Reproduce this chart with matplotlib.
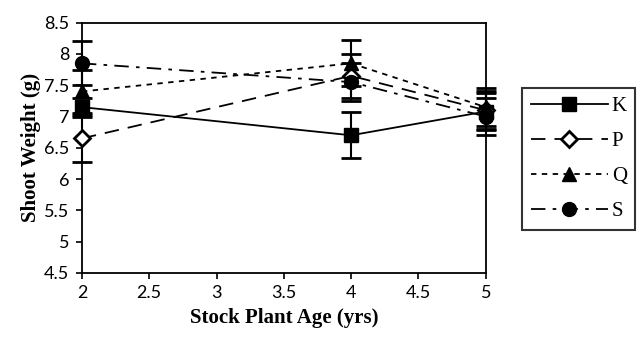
import numpy as np
import matplotlib
matplotlib.use("Agg")
import matplotlib.pyplot as plt

# stock plant age (yrs)
age = [2, 4, 5]

# mean shoot weight (g) and error per clone
K = [7.15, 6.70, 7.08]
K_err = [0.15, 0.37, 0.30]
P = [6.65, 7.65, 7.10]
P_err = [0.37, 0.35, 0.30]
Q = [7.40, 7.85, 7.15]
Q_err = [0.35, 0.37, 0.30]
S = [7.85, 7.55, 7.00]
S_err = [0.35, 0.30, 0.30]

labels = ["K", "P", "Q", "S"]
yticks = [4.5, 5, 5.5, 6, 6.5, 7, 7.5, 8, 8.5]
xticks = [2, 2.5, 3, 3.5, 4, 4.5, 5]

fig = plt.figure(figsize=(6.4, 3.49), dpi=100)
ax = fig.add_axes([0.128, 0.218, 0.631, 0.717])

styles = [
    dict(marker="s", ms=10, mfc="black", ls="-"),
    dict(marker="D", ms=8, mfc="white", mew=2, dashes=(8, 5)),
    dict(marker="^", ms=10, mfc="black", dashes=(3, 3)),
    dict(marker="o", ms=10, mfc="black", dashes=(8, 4, 2, 4)),
]
series = [(K, K_err), (P, P_err), (Q, Q_err), (S, S_err)]

handles = []
for (vals, err), st, lab in zip(series, styles, labels):
    eb = ax.errorbar(age, vals, yerr=err, fmt="none", ecolor="black",
                     elinewidth=1.5, capsize=7, capthick=2)
    for art in eb.lines[1] + eb.lines[2]:
        art.set_clip_on(False)
    h, = ax.plot(age, vals, color="black", lw=1.3, mec="black", label=lab,
                 clip_on=False, zorder=3, **st)
    handles.append(h)

ax.set_xlim(2, 5)
ax.set_ylim(4.5, 8.5)
ax.set_xticks(xticks)
ax.set_yticks(yticks)
ax.set_xticklabels([str(t) for t in xticks], fontfamily="Lato", fontsize=13)
ax.set_yticklabels([str(t) for t in yticks], fontfamily="Lato", fontsize=13)
ax.tick_params(direction="out", length=4, width=1.2, pad=5)
for sp in ax.spines.values():
    sp.set_linewidth(1.3)

ax.set_xlabel("Stock Plant Age (yrs)", fontfamily="Liberation Serif",
              fontweight="bold", fontsize=15, labelpad=5)
ax.set_ylabel("Shoot Weight (g)", fontfamily="Liberation Serif",
              fontweight="bold", fontsize=15, labelpad=2)

leg = fig.legend(handles=handles, loc="upper left", bbox_to_anchor=(0.816, 0.748),
                 frameon=True, fancybox=False, edgecolor="black",
                 prop={"family": "Liberation Serif", "size": 15},
                 handlelength=3.7, labelspacing=0.75, borderpad=0.4,
                 handletextpad=0.2, borderaxespad=0, markerfirst=True)
leg.get_frame().set_linewidth(1.5)

fig.savefig("out.png", dpi=100)
